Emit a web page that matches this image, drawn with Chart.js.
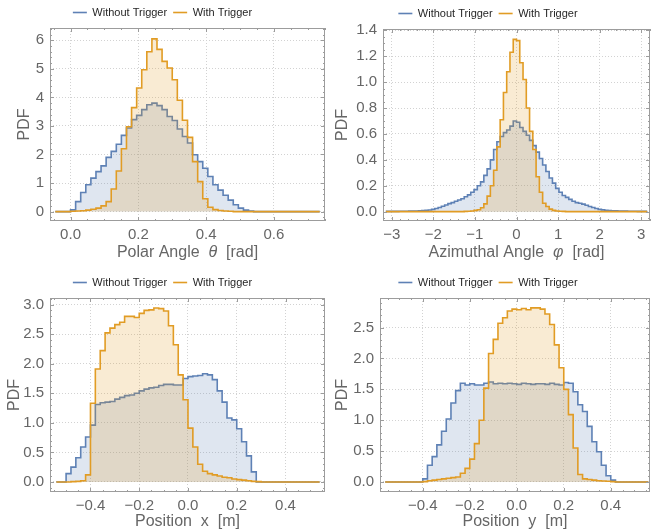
<!DOCTYPE html>
<html lang="en">
<head>
    <meta charset="UTF-8">
    <title>Trigger acceptance - PDFs</title>
    <script src="https://cdn.jsdelivr.net/npm/chart.js@4.4.1/dist/chart.umd.min.js"></script>
    <style>
        html, body { margin: 0; padding: 0; background: #fff; }
        .sheet { position: relative; width: 652px; height: 531px; }
        .sheet canvas { position: absolute; }
        #polar { left: 0; top: 0; }
        #azimuth { left: 326px; top: 0; }
        #posx { left: 0; top: 265px; }
        #posy { left: 326px; top: 265px; }
    </style>
</head>
<body>
    <div class="sheet">
        <canvas id="polar" width="326" height="265"></canvas>
        <canvas id="azimuth" width="326" height="265"></canvas>
        <canvas id="posx" width="326" height="266"></canvas>
        <canvas id="posy" width="326" height="266"></canvas>
    </div>
    <script>
        // polar angle theta [rad], bins of 0.015 starting at -0.045
        const thetaStart = -0.045;
        const thetaBin = 0.015;
        const thetaWithout = [0, 0, 0, 0.06, 0.35, 0.67, 0.94, 1.17, 1.40, 1.60, 1.90, 2.11, 2.36, 2.67, 2.93, 3.22,
            3.37, 3.57, 3.74, 3.80, 3.71, 3.57, 3.33, 3.19, 2.89, 2.63, 2.40, 1.99, 1.75, 1.52, 1.23, 0.94, 0.75,
            0.57, 0.40, 0.24, 0.12, 0.05, 0.02, 0, 0, 0, 0, 0, 0, 0, 0, 0, 0, 0, 0, 0];
        const thetaWith = [0, 0, 0, 0.01, 0.02, 0.03, 0.05, 0.08, 0.12, 0.20, 0.35, 0.79, 1.42, 2.20, 2.97, 3.64,
            4.33, 4.97, 5.60, 6.05, 5.68, 5.26, 5.03, 4.62, 3.90, 3.20, 2.60, 1.75, 1.05, 0.45, 0.15, 0.07, 0.04,
            0.02, 0.01, 0, 0, 0, 0, 0, 0, 0, 0, 0, 0, 0, 0, 0, 0, 0, 0, 0];
        const thetaTicks = [0, 0.2, 0.4, 0.6];
        const thetaPdfTicks = [0, 1, 2, 3, 4, 5, 6];

        // azimuthal angle phi [rad], 80 bins over [-pi, pi]
        const phiStart = -Math.PI;
        const phiBin = 2 * Math.PI / 80;
        const phiWithout = [0.002, 0.002, 0.002, 0.002, 0.003, 0.003, 0.003, 0.004, 0.004, 0.005,
            0.006, 0.008, 0.010, 0.013, 0.018, 0.024, 0.032, 0.042, 0.052, 0.062,
            0.07, 0.08, 0.09, 0.10, 0.115, 0.13, 0.15, 0.17, 0.20, 0.23,
            0.28, 0.33, 0.40, 0.48, 0.54, 0.58, 0.61, 0.63, 0.66, 0.70,
            0.69, 0.65, 0.62, 0.59, 0.55, 0.51, 0.46, 0.41, 0.36, 0.31,
            0.26, 0.22, 0.18, 0.15, 0.125, 0.11, 0.095, 0.08, 0.07, 0.065,
            0.058, 0.05, 0.04, 0.032, 0.025, 0.018, 0.014, 0.011, 0.009, 0.007,
            0.006, 0.005, 0.004, 0.004, 0.003, 0.003, 0.003, 0.002, 0.002, 0.002];
        const phiWith = [0, 0, 0, 0, 0, 0, 0, 0, 0, 0,
            0, 0, 0, 0, 0, 0, 0, 0, 0, 0,
            0, 0, 0, 0, 0.002, 0.003, 0.005, 0.01, 0.015, 0.03,
            0.06, 0.12, 0.20, 0.32, 0.50, 0.71, 0.92, 1.08, 1.23, 1.33,
            1.32, 1.15, 1.02, 0.80, 0.62, 0.48, 0.27, 0.15, 0.065, 0.04,
            0.02, 0.01, 0.005, 0.003, 0.002, 0, 0, 0, 0, 0,
            0, 0, 0, 0, 0, 0, 0, 0, 0, 0,
            0, 0, 0, 0, 0, 0, 0, 0, 0, 0];
        const phiTicks = [-3, -2, -1, 0, 1, 2, 3];
        const phiPdfTicks = [0, 0.2, 0.4, 0.6, 0.8, 1.0, 1.2, 1.4];

        // position x [m], bins of 0.02 starting at -0.54
        const posXStart = -0.54;
        const posXBin = 0.02;
        const posXWithout = [0, 0, 0.14, 0.25, 0.41, 0.59, 0.76, 0.96, 1.31, 1.34, 1.35, 1.36, 1.40, 1.43, 1.46,
            1.47, 1.50, 1.54, 1.57, 1.59, 1.60, 1.63, 1.65, 1.65, 1.64, 1.64, 1.75, 1.78, 1.79, 1.80, 1.83, 1.81,
            1.73, 1.54, 1.35, 1.08, 1.05, 0.90, 0.68, 0.44, 0.17, 0, 0, 0, 0, 0, 0, 0, 0, 0, 0, 0, 0, 0];
        const posXWith = [0, 0, 0, 0.005, 0.01, 0.02, 0.12, 1.33, 1.91, 2.22, 2.52, 2.60, 2.66, 2.70, 2.80,
            2.80, 2.78, 2.85, 2.90, 2.91, 2.94, 2.93, 2.89, 2.64, 2.32, 1.81, 1.39, 0.91, 0.59, 0.30, 0.18, 0.14,
            0.12, 0.10, 0.08, 0.07, 0.05, 0.04, 0.03, 0.02, 0.01, 0.005, 0, 0, 0, 0, 0, 0, 0, 0, 0, 0, 0, 0];
        const posXTicks = [-0.4, -0.2, 0, 0.2, 0.4];
        const posXPdfTicks = [0, 0.5, 1.0, 1.5, 2.0, 2.5, 3.0];

        // position y [m], bins of 0.02 starting at -0.56
        const posYStart = -0.56;
        const posYBin = 0.02;
        const posYWithout = [0, 0, 0, 0, 0, 0, 0, 0, 0.05, 0.27, 0.41, 0.60, 0.82, 1.02, 1.28, 1.48, 1.60, 1.57,
            1.59, 1.57, 1.57, 1.60, 1.62, 1.59, 1.60, 1.59, 1.60, 1.59, 1.58, 1.60, 1.59, 1.58, 1.59, 1.59, 1.58,
            1.60, 1.58, 1.57, 1.61, 1.60, 1.46, 1.25, 1.14, 0.90, 0.65, 0.49, 0.27, 0.10, 0.03, 0, 0, 0, 0, 0, 0, 0];
        const posYWith = [0, 0, 0, 0, 0, 0, 0, 0, 0.005, 0.02, 0.03, 0.04, 0.05, 0.06, 0.07, 0.08, 0.14, 0.22,
            0.37, 0.62, 1.00, 1.52, 2.08, 2.31, 2.57, 2.66, 2.77, 2.80, 2.79, 2.81, 2.79, 2.82, 2.82, 2.80, 2.72,
            2.55, 2.22, 1.85, 1.50, 1.09, 0.55, 0.12, 0.05, 0.04, 0.03, 0.02, 0.015, 0.01, 0.005, 0, 0, 0, 0, 0, 0, 0];
        const posYTicks = [-0.4, -0.2, 0, 0.2, 0.4];
        const posYPdfTicks = [0, 0.5, 1.0, 1.5, 2.0, 2.5];

        const BLUE = '#5E81B5';
        const ORANGE = '#E19C24';
        const FONT = "'Liberation Sans', Arial, sans-serif";
        const TEXT_GRAY = '#666666';
        const FRAME_GRAY = '#9c9c9c';

        // axis titles (drawn by the frame plugin so the greek letter can be italic)
        const axisTitles = {
            polar: { x: [['Polar Angle  ', false], ['\u03B8', true], ['  [rad]', false]], yTitleX: 25, xTitleDy: 32 },
            azimuth: { x: [['Azimuthal Angle  ', false], ['\u03C6', true], ['  [rad]', false]], yTitleX: 17, xTitleDy: 32 },
            posx: { x: [['Position  x  [m]', false]], yTitleX: 15, xTitleDy: 30 },
            posy: { x: [['Position  y  [m]', false]], yTitleX: 17, xTitleDy: 30 }
        };

        function histPoints(start, width, values) {
            const pts = values.map((v, i) => ({ x: start + i * width, y: v }));
            pts.push({ x: start + values.length * width, y: values[values.length - 1] });
            return pts;
        }

        function fmt(v, dec) {
            return v.toFixed(dec).replace('-', '\u2212');
        }

        // frame with inward major/minor ticks on all four sides, plus axis titles
        function frameTicks(ctx, scale, area, horizontal) {
            const vals = scale.ticks.map(t => t.value);
            const step = vals[1] - vals[0];
            const lead = step / Math.pow(10, Math.floor(Math.log10(step) + 1e-9));
            const sub = Math.abs(lead - 2) < 1e-6 ? 4 : 5;
            const minor = step / sub;
            const first = Math.ceil(scale.min / minor - 1e-9);
            const last = Math.floor(scale.max / minor + 1e-9);
            for (let k = first; k <= last; k++) {
                const v = k * minor;
                const major = Math.abs(v / step - Math.round(v / step)) < 1e-6;
                const len = major ? 4 : 2;
                const p = Math.round(scale.getPixelForValue(v)) + 0.5;
                if (horizontal) {
                    ctx.moveTo(p, area.bottom); ctx.lineTo(p, area.bottom - len);
                    ctx.moveTo(p, area.top); ctx.lineTo(p, area.top + len);
                } else {
                    ctx.moveTo(area.left, p); ctx.lineTo(area.left + len, p);
                    ctx.moveTo(area.right, p); ctx.lineTo(area.right - len, p);
                }
            }
        }

        const framePlugin = {
            id: 'frame',
            afterDatasetsDraw(chart) {
                const { ctx, chartArea: a, scales } = chart;
                ctx.save();
                ctx.strokeStyle = FRAME_GRAY;
                ctx.lineWidth = 1;
                ctx.strokeRect(Math.round(a.left) + 0.5, Math.round(a.top) + 0.5,
                    Math.round(a.right - a.left) - 1, Math.round(a.bottom - a.top) - 1);
                ctx.beginPath();
                frameTicks(ctx, scales.x, a, true);
                frameTicks(ctx, scales.y, a, false);
                ctx.stroke();
                ctx.restore();
            },
            afterDraw(chart) {
                const { ctx, chartArea: a } = chart;
                const t = axisTitles[chart.canvas.id];
                ctx.save();
                ctx.fillStyle = TEXT_GRAY;
                ctx.textBaseline = 'middle';
                // x title
                const parts = t.x.map(([s, it]) => {
                    ctx.font = (it ? 'italic ' : '') + '16px ' + FONT;
                    return { s, font: ctx.font, w: ctx.measureText(s).width };
                });
                let x = (a.left + a.right) / 2 - parts.reduce((n, p) => n + p.w, 0) / 2;
                const y = a.bottom + t.xTitleDy;
                ctx.textAlign = 'left';
                parts.forEach(p => { ctx.font = p.font; ctx.fillText(p.s, x, y); x += p.w; });
                // y title
                ctx.font = '16px ' + FONT;
                ctx.textAlign = 'center';
                ctx.translate(t.yTitleX, (a.top + a.bottom) / 2);
                ctx.rotate(-Math.PI / 2);
                ctx.fillText('PDF', 0, 0);
                ctx.restore();
            }
        };

        function makeChart(id, p) {
            return new Chart(document.getElementById(id), {
                type: 'line',
                data: {
                    datasets: [{
                        label: 'Without Trigger',
                        data: histPoints(p.start, p.bin, p.without),
                        borderColor: BLUE,
                        backgroundColor: 'rgba(94, 129, 181, 0.2)',
                        fill: 'origin',
                        stepped: true,
                        borderWidth: 1.6,
                        pointRadius: 0,
                        order: 2
                    }, {
                        label: 'With Trigger',
                        data: histPoints(p.start, p.bin, p.with),
                        borderColor: ORANGE,
                        backgroundColor: 'rgba(225, 156, 36, 0.2)',
                        fill: 'origin',
                        stepped: true,
                        borderWidth: 1.6,
                        pointRadius: 0,
                        order: 1
                    }]
                },
                options: {
                    responsive: false,
                    animation: false,
                    devicePixelRatio: 1,
                    events: [],
                    layout: { padding: { top: p.padTop, right: p.padRight, left: 0, bottom: 0 } },
                    plugins: {
                        tooltip: { enabled: false },
                        legend: {
                            position: 'top',
                            labels: {
                                usePointStyle: true,
                                pointStyle: 'line',
                                pointStyleWidth: 14,
                                padding: 6,
                                color: '#262626',
                                font: { family: FONT, size: 11 },
                                sort: (a, b) => a.datasetIndex - b.datasetIndex
                            }
                        }
                    },
                    scales: {
                        x: {
                            type: 'linear',
                            min: p.xMin,
                            max: p.xMax,
                            afterBuildTicks: s => { s.ticks = p.xTicks.map(v => ({ value: v })); },
                            afterFit: s => { s.height = p.xAxisH; },
                            ticks: {
                                autoSkip: false, maxRotation: 0, padding: 5,
                                color: TEXT_GRAY, font: { family: FONT, size: 15 },
                                callback: v => fmt(v, p.xDec)
                            },
                            grid: { color: '#d2d2d2', drawTicks: false },
                            border: { display: false, dash: [1, 2] }
                        },
                        y: {
                            type: 'linear',
                            min: p.yMin,
                            max: p.yMax,
                            afterBuildTicks: s => { s.ticks = p.yTicks.map(v => ({ value: v })); },
                            afterFit: s => { s.width = p.yAxisW; },
                            ticks: {
                                autoSkip: false, padding: 6,
                                color: TEXT_GRAY, font: { family: FONT, size: 15 },
                                callback: v => fmt(v, p.yDec)
                            },
                            grid: { color: '#d2d2d2', drawTicks: false },
                            border: { display: false, dash: [1, 2] }
                        }
                    }
                },
                plugins: [framePlugin]
            });
        }

        makeChart('polar', {
            start: thetaStart, bin: thetaBin, without: thetaWithout, with: thetaWith,
            xTicks: thetaTicks, yTicks: thetaPdfTicks, xDec: 1, yDec: 0,
            xMin: -0.0606, xMax: 0.7506, yMin: -0.33, yMax: 6.43,
            padTop: 1, padRight: 1, yAxisW: 50, xAxisH: 44
        });
        makeChart('azimuth', {
            start: phiStart, bin: phiBin, without: phiWithout, with: phiWith,
            xTicks: phiTicks, yTicks: phiPdfTicks, xDec: 0, yDec: 1,
            xMin: -3.21, xMax: 3.21, yMin: -0.072, yMax: 1.41,
            padTop: 2, padRight: 2, yAxisW: 57, xAxisH: 44
        });
        makeChart('posx', {
            start: posXStart, bin: posXBin, without: posXWithout, with: posXWith,
            xTicks: posXTicks, yTicks: posXPdfTicks, xDec: 1, yDec: 1,
            xMin: -0.566, xMax: 0.562, yMin: -0.17, yMax: 3.11,
            padTop: 6, padRight: 1, yAxisW: 50, xAxisH: 39
        });
        makeChart('posy', {
            start: posYStart, bin: posYBin, without: posYWithout, with: posYWith,
            xTicks: posYTicks, yTicks: posYPdfTicks, xDec: 1, yDec: 1,
            xMin: -0.582, xMax: 0.567, yMin: -0.163, yMax: 2.98,
            padTop: 6, padRight: 2, yAxisW: 54, xAxisH: 39
        });
    </script>
</body>
</html>
